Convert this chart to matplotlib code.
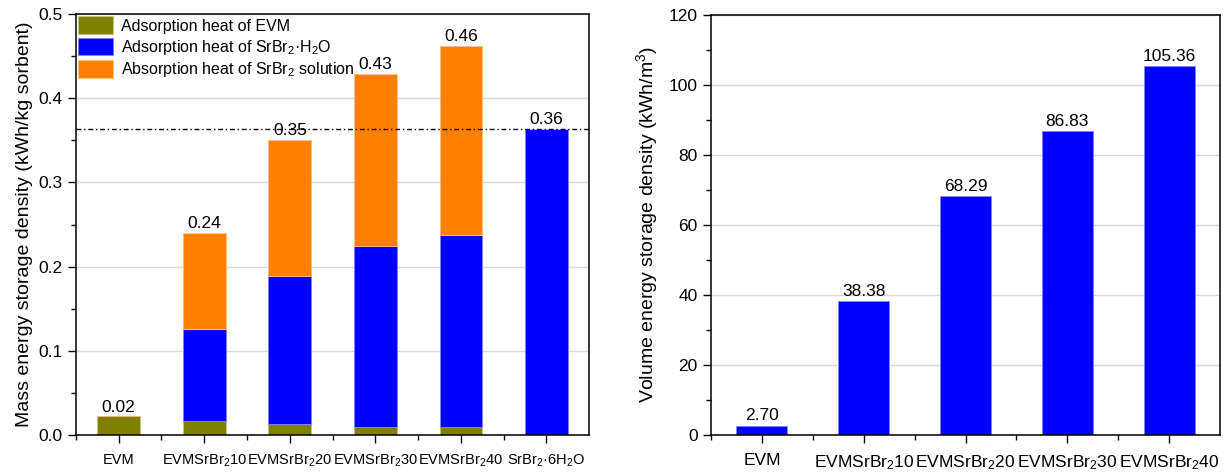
import numpy as np
import matplotlib
matplotlib.use('Agg')
from matplotlib import pyplot as plt
from matplotlib.ticker import MultipleLocator

plt.rcParams['font.family'] = ['Liberation Sans', 'DejaVu Sans']
plt.rcParams['mathtext.fontset'] = 'custom'
plt.rcParams['mathtext.rm'] = 'Liberation Sans'
plt.rcParams['mathtext.it'] = 'Liberation Sans:italic'

# Данные левого графика (массовая плотность)
mass_labels = ['EVM', 'EVMSrBr$_2$10', 'EVMSrBr$_2$20', 'EVMSrBr$_2$30',
               'EVMSrBr$_2$40', 'SrBr$_2$·6H$_2$O']
heat_evm = [0.022, 0.0166, 0.0127, 0.009, 0.009, 0.0]
heat_hydrate = [0.0, 0.109, 0.176, 0.215, 0.228, 0.3633]
heat_solution = [0.0, 0.1144, 0.1617, 0.2046, 0.2248, 0.0]
mass_totals = ['0.02', '0.24', '0.35', '0.43', '0.46', '0.36']
reference_line = 0.3633

# Данные правого графика (объёмная плотность)
vol_labels = ['EVM', 'EVMSrBr$_2$10', 'EVMSrBr$_2$20', 'EVMSrBr$_2$30', 'EVMSrBr$_2$40']
vol_values = [2.70, 38.38, 68.29, 86.83, 105.36]

c_evm = '#808000'
c_blue = '#0000ff'
c_orange = '#ff8000'

fig = plt.figure(figsize=(12.25, 4.73), dpi=100)
ax1 = fig.add_axes([0.062, 0.0803, 0.419, 0.8901])
ax2 = fig.add_axes([0.5804, 0.0803, 0.4156, 0.8880])


def style_axis(ax):
    ax.set_axisbelow(True)
    ax.grid(axis='y', color='#d9d9d9', linewidth=1)
    ax.tick_params(which='major', direction='out', length=6, width=1, labelsize=12.5)
    ax.tick_params(which='minor', direction='out', length=3.5, width=1)
    ax.tick_params(axis='x', which='major', labelsize=10.5, pad=7)
    for s in ax.spines.values():
        s.set_linewidth(1.1)


# Левый график
x1 = np.arange(len(mass_labels))
w = 0.5
b1 = np.array(heat_evm)
b2 = b1 + np.array(heat_hydrate)
ax1.bar(x1, heat_evm, w, color=c_evm, edgecolor='#c8c87a', linewidth=0.6,
        label='Adsorption heat of EVM')
ax1.bar(x1, heat_hydrate, w, bottom=b1, color=c_blue, edgecolor='#8080ff', linewidth=0.6,
        label='Adsorption heat of SrBr$_2$·H$_2$O')
ax1.bar(x1, heat_solution, w, bottom=b2, color=c_orange, edgecolor='#ffc080', linewidth=0.6,
        label='Absorption heat of SrBr$_2$ solution')
tops = b2 + np.array(heat_solution)
for xi, t, lab in zip(x1, tops, mass_totals):
    ax1.text(xi, t + 0.002, lab, ha='center', va='bottom', fontsize=12.5)
ax1.axhline(reference_line, color='black', linewidth=1, dashes=(3.5, 2, 1, 2), zorder=5)

style_axis(ax1)
ax1.set_xlim(-0.5, 5.5)
ax1.set_ylim(0, 0.5)
ax1.set_xticks(x1)
ax1.set_xticks(np.arange(-0.5, 5.5, 1), minor=True)
ax1.set_xticklabels(mass_labels)
ax1.yaxis.set_major_locator(MultipleLocator(0.1))
ax1.yaxis.set_minor_locator(MultipleLocator(0.05))
ax1.set_ylabel('Mass energy storage density (kWh/kg sorbent)', fontsize=14, labelpad=4)
ax1.legend(loc='upper left', frameon=False, fontsize=11.5, handlelength=2.2,
           handleheight=1.35, labelspacing=0.2, handletextpad=0.5,
           borderaxespad=0.05, borderpad=0.1)

# Правый график
x2 = np.arange(len(vol_labels))
ax2.bar(x2, vol_values, w, color=c_blue, edgecolor='#8080ff', linewidth=0.6)
for xi, v in zip(x2, vol_values):
    ax2.text(xi, v + 0.6, f'{v:.2f}', ha='center', va='bottom', fontsize=12.5)

style_axis(ax2)
ax2.set_xlim(-0.5, 4.5)
ax2.set_ylim(0, 120)
ax2.set_xticks(x2)
ax2.set_xticks(np.arange(-0.5, 4.5, 1), minor=True)
ax2.set_xticklabels(vol_labels, fontsize=12.5)
ax2.yaxis.set_major_locator(MultipleLocator(20))
ax2.yaxis.set_minor_locator(MultipleLocator(10))
ax2.set_ylabel('Volume energy storage density (kWh/m$^3$)', fontsize=14, labelpad=6)

plt.savefig('out.png', dpi=100)
